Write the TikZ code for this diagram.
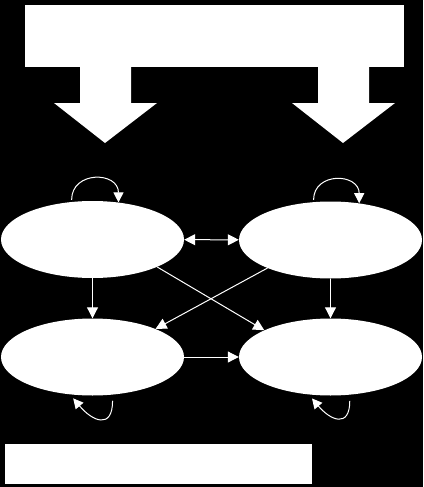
\documentclass[tikz,border=0pt]{standalone}
\usetikzlibrary{arrows.meta,shapes.geometric}
\begin{document}
\begin{tikzpicture}[x=1pt,y=-1pt,
  state/.style={ellipse, fill=white, minimum width=183pt, minimum height=77pt, inner sep=0pt},
  box/.style={rectangle, fill=white, inner sep=0pt},
  tipA/.style={-{Triangle[length=11pt,width=11pt]}},
  conn/.style={draw=white, line width=1pt, tipA},
  loop/.style={draw=white, line width=1pt, -{Triangle[length=10pt,width=10pt]}},
  bigarrow/.style={fill=white}]
\fill[black] (0,0) rectangle (423,487);
\useasboundingbox (0,0) rectangle (423,487);
% top box and big arrows
\node[box, minimum width=379pt, minimum height=62pt] (top) at (214.5,36) {};
\fill[bigarrow] (80,66) -- (80,103) -- (54,103) -- (105,143) -- (157,103) -- (131,103) -- (131,66) -- cycle;
\fill[bigarrow] (318,66) -- (318,103) -- (292,103) -- (343,143) -- (395,103) -- (369,103) -- (369,66) -- cycle;
% states
\node[state] (tl) at (92.5,239.5) {};
\node[state] (tr) at (330.5,240) {};
\node[state] (bl) at (92.5,357) {};
\node[state] (br) at (330.5,357) {};
% bottom box
\node[box, minimum width=307pt, minimum height=40pt] (bot) at (158.5,464) {};
% connectors
\draw[conn, {Triangle[length=11pt,width=11pt]}-{Triangle[length=11pt,width=11pt]}] (tl) -- (tr);
\draw[conn] (tl) -- (bl);
\draw[conn] (tr) -- (br);
\draw[conn] (bl) -- (br);
\draw[conn] (tl.-23) -- (br.158);
\draw[conn] (tr.-156) -- (bl.24);
% self loops
\draw[loop, shorten <=2pt] (tl.119) to[out=90,in=90,looseness=1.7] (tl.55);
\draw[loop, shorten <=2pt] (tr.114) to[out=90,in=90,looseness=1.7] (tr.52);
\draw[loop, shorten <=6pt, shorten >=5pt] (bl.-62) to[out=-90,in=-50,looseness=2.1] (bl.-121);
\draw[loop, shorten <=6pt, shorten >=5pt] (br.-63) to[out=-90,in=-50,looseness=2.1] (br.-120);
\end{tikzpicture}
\end{document}
